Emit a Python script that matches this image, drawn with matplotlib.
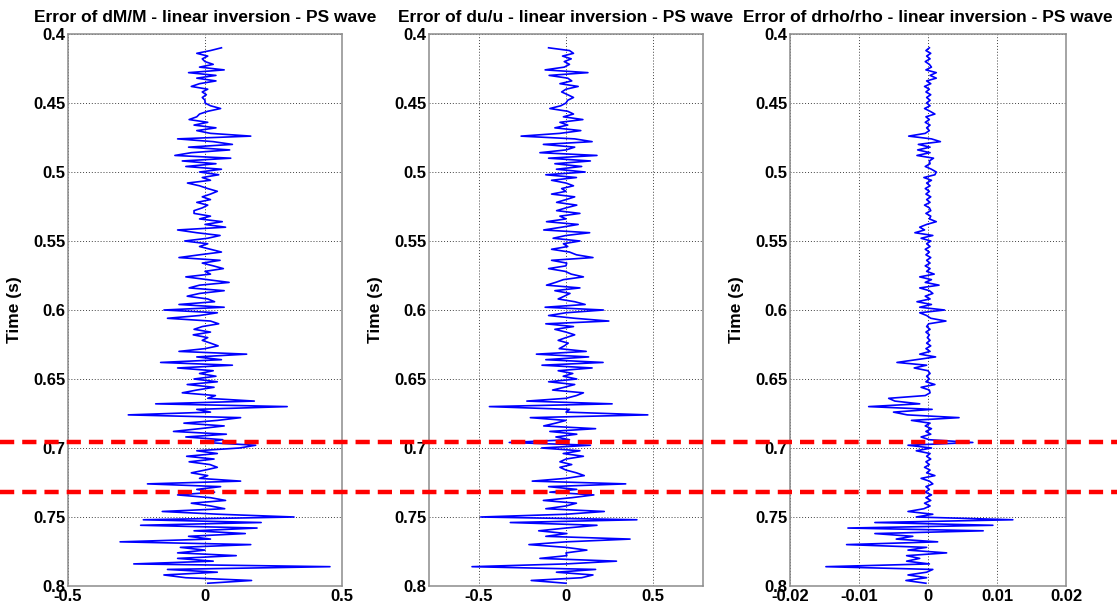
import numpy as np
import matplotlib
matplotlib.use("Agg")
import matplotlib.pyplot as plt
from matplotlib.lines import Line2D
from matplotlib.transforms import blended_transform_factory

plt.rcParams['font.family'] = ['Liberation Sans', 'DejaVu Sans']
plt.rcParams['font.weight'] = 'bold'

# Time samples (s), 2 ms step
time = np.round(np.arange(0.410, 0.7995, 0.002), 3)

# Relative error of the shear modulus, dM/M
err_dM_M = [
    0.06, 0.02, -0.03, 0.01, -0.01, 0.0, 0.03, -0.02, 0.07, -0.06,
    0.04, -0.03, 0.04, -0.02, -0.05, 0.01, -0.01, 0.005, -0.01, 0.0,
    0.0, 0.02, 0.057, 0.01, -0.02, -0.03, -0.058, 0.01, -0.04, 0.04,
    -0.03, 0.02, 0.167, -0.10, 0.03, 0.10, -0.06, 0.09, -0.05, -0.11,
    0.094, -0.083, 0.04, -0.07, 0.06, -0.02, 0.05, -0.01, 0.02, -0.064,
    -0.02, 0.01, 0.045, 0.02, -0.01, 0.02, -0.03, 0.01, -0.01, -0.04,
    -0.04, 0.02, -0.02, 0.063, 0.0, 0.075, -0.10, -0.03, 0.055, 0.01,
    -0.074, 0.01, -0.02, 0.02, 0.06, -0.02, -0.095, 0.055, -0.01, 0.03,
    0.067, 0.0, 0.02, -0.07, 0.01, 0.088, -0.02, -0.058, 0.07, -0.02,
    -0.065, 0.01, 0.035, -0.095, 0.07, -0.15, 0.045, -0.02, -0.137, 0.02,
    0.05, -0.01, -0.04, 0.02, -0.043, 0.01, -0.01, 0.02, 0.048, 0.0,
    -0.095, 0.152, -0.03, 0.06, -0.162, 0.10, -0.10, 0.03, -0.02, 0.04,
    -0.04, 0.045, -0.065, 0.033, -0.03, -0.083, 0.038, 0.01, 0.18, -0.18,
    0.30, -0.03, 0.02, -0.28, 0.13, 0.045, -0.077, 0.07, -0.02, -0.115,
    0.078, -0.07, 0.065, 0.0, 0.185, 0.126, -0.03, 0.045, -0.067, 0.033,
    -0.058, 0.018, 0.045, 0.0, -0.05, 0.01, -0.02, 0.13, -0.21, 0.057,
    -0.03, 0.035, -0.1, 0.02, 0.075, -0.05, 0.02, 0.072, -0.156, 0.05,
    0.325, -0.225, 0.205, -0.235, 0.19, -0.04, 0.147, -0.06, 0.02, -0.31,
    0.167, -0.09, 0.0, -0.10, 0.114, -0.1, 0.03, -0.26, 0.456, -0.137,
    0.045, -0.15, -0.07, 0.17, 0.01,
]

# Relative error of the shear-wave velocity, du/u
err_du_u = [
    -0.10, 0.02, 0.043, -0.02, 0.03, -0.01, 0.02, -0.01, -0.12, 0.126,
    -0.097, 0.01, 0.033, -0.035, 0.07, 0.0, -0.025, 0.01, 0.043, 0.01,
    0.0, -0.03, -0.093, 0.01, 0.043, -0.015, 0.097, -0.035, 0.01, -0.064,
    0.085, -0.035, -0.258, 0.05, 0.15, -0.13, 0.05, 0.0, -0.15, 0.178,
    -0.10, 0.14, -0.064, 0.09, -0.055, 0.11, -0.116, 0.06, -0.083, 0.0,
    0.043, -0.025, 0.0, -0.083, 0.05, 0.0, -0.054, 0.062, 0.0, -0.054,
    0.08, -0.035, 0.0, -0.112, 0.07, -0.025, -0.128, 0.136, 0.0, -0.074,
    0.08, -0.015, 0.01, -0.083, 0.02, 0.06, 0.155, -0.083, 0.004, 0.0,
    -0.10, -0.005, 0.03, 0.10, -0.015, -0.06, -0.112, 0.08, -0.064, 0.023,
    -0.01, -0.045, 0.05, 0.11, -0.12, 0.215, 0.0, -0.10, 0.05, 0.246,
    -0.116, 0.043, -0.064, 0.0, 0.05, 0.0, -0.045, 0.013, -0.01, -0.039,
    0.116, -0.17, 0.13, -0.116, 0.213, -0.138, 0.15, -0.045, 0.039, -0.016,
    0.062, -0.10, 0.05, -0.01, -0.077, 0.10, 0.06, 0.0, -0.225, 0.265,
    -0.44, 0.02, 0.0, 0.47, -0.205, 0.0, -0.06, -0.128, 0.17, -0.093,
    0.062, -0.058, 0.02, -0.326, 0.14, -0.14, 0.08, -0.016, 0.10, 0.0,
    -0.035, 0.033, -0.035, 0.0, 0.06, 0.105, 0.0, -0.194, 0.343, -0.10,
    0.062, -0.093, 0.16, 0.033, -0.13, 0.06, 0.0, -0.116, 0.22, 0.0,
    -0.49, 0.407, -0.32, 0.178, 0.0, -0.157, 0.005, -0.116, 0.368, 0.0,
    -0.213, 0.0, 0.12, 0.0, 0.005, -0.15, 0.29, 0.0, -0.54, 0.17,
    -0.055, 0.155, 0.09, -0.20, 0.0,
]

# Relative error of density, drho/rho
err_drho_rho = [
    0.0002, -0.0003, 0.0004, -0.0002, 0.0003, -0.0004, 0.0002, 0.0005, -0.0003, 0.0012,
    0.0003, 0.0012, -0.0002, 0.0004, -0.0005, 0.0002, -0.0003, 0.0004, -0.0002, 0.0003,
    -0.0002, 0.0003, -0.0005, 0.0003, 0.0010, -0.0003, 0.0002, -0.0004, 0.0003, -0.0002,
    0.0002, -0.0004, -0.0028, 0.0005, 0.0018, -0.0014, 0.0003, -0.0015, 0.0003, -0.0016,
    0.0008, 0.0002, 0.0003, -0.0004, 0.0005, 0.0012, 0.0010, -0.0006, 0.0005, -0.0002,
    0.0003, -0.0004, 0.0002, -0.0003, 0.0004, -0.0002, 0.0003, -0.0005, 0.0002, 0.0004,
    -0.0003, 0.0004, 0.0002, 0.0012, -0.0002, -0.0012, -0.0005, -0.0019, 0.0007, -0.0010,
    0.0004, -0.0002, 0.0003, -0.0004, 0.0002, -0.0003, 0.0004, -0.0002, 0.0003, -0.0004,
    0.0003, -0.0002, 0.0009, -0.0012, 0.0005, -0.0004, 0.0016, -0.0012, 0.0002, 0.0007,
    -0.0004, 0.0003, -0.0016, 0.0005, -0.0012, 0.0024, -0.0012, -0.0002, 0.0004, 0.0026,
    0.0001, -0.0002, 0.0003, -0.0003, 0.0002, -0.0001, 0.0003, -0.0002, 0.0004, -0.0003,
    0.0003, -0.0012, 0.0011, -0.0017, -0.0045, -0.0002, -0.0020, 0.0000, 0.0003, -0.0002,
    0.0002, -0.0003, 0.0010, -0.0010, 0.0002, 0.0003, -0.0004, -0.0057, -0.0048, -0.0012,
    -0.0086, 0.0006, -0.0050, -0.0030, 0.0045, -0.0024, 0.0003, -0.0004, 0.0005, -0.0003,
    0.0004, -0.0010, 0.0002, 0.0065, -0.0029, 0.0005, -0.0017, 0.0003, -0.0002, 0.0004,
    -0.0003, 0.0002, -0.0005, 0.0003, -0.0002, 0.0010, -0.0010, 0.0002, 0.0007, -0.0003,
    0.0002, -0.0004, 0.0005, -0.0003, 0.0004, -0.0005, 0.0003, -0.0006, -0.0029, 0.0007,
    -0.0017, 0.0123, -0.0077, 0.0094, -0.0116, 0.0080, -0.0077, -0.0022, -0.0046, 0.0014,
    -0.0118, -0.0002, -0.0029, 0.0027, -0.0031, -0.0012, -0.0031, 0.0002, -0.0148, 0.0007,
    -0.0002, -0.0029, -0.0002, -0.0032, -0.0003,
]

# Time window of interest (s)
window_times = [0.6955, 0.7318]

titles = [
    "Error of dM/M - linear inversion - PS wave",
    "Error of du/u - linear inversion - PS wave",
    "Error of drho/rho - linear inversion - PS wave",
]
series = [err_dM_M, err_du_u, err_drho_rho]

y_ticks = [0.4, 0.45, 0.5, 0.55, 0.6, 0.65, 0.7, 0.75, 0.8]
y_tick_labels = ["0.4", "0.45", "0.5", "0.55", "0.6", "0.65", "0.7", "0.75", "0.8"]
x_ticks = [[-0.5, 0, 0.5], [-0.5, 0, 0.5], [-0.02, -0.01, 0, 0.01, 0.02]]
x_tick_labels = [["-0.5", "0", "0.5"], ["-0.5", "0", "0.5"],
                 ["-0.02", "-0.01", "0", "0.01", "0.02"]]
x_limits = [(-0.5, 0.5), (-0.787, 0.787), (-0.02, 0.02)]

W, H = 1117, 610
fig = plt.figure(figsize=(W / 100, H / 100), dpi=100)

# axes boxes in pixels: left, right, top, bottom
boxes = [(68, 342, 34, 586), (429, 703, 34, 586), (790, 1066, 34, 586)]

axes = []
for i, (l, r, t, b) in enumerate(boxes):
    ax = fig.add_axes([l / W, (H - b) / H, (r - l) / W, (b - t) / H])
    ax.plot(series[i], time, color="#0000ff", lw=1.2)
    ax.set_xlim(*x_limits[i])
    ax.set_ylim(0.8, 0.4)
    ax.set_xticks(x_ticks[i])
    ax.set_xticklabels(x_tick_labels[i])
    ax.set_yticks(y_ticks)
    ax.set_yticklabels(y_tick_labels)
    ax.grid(True, linestyle=(0, (1, 2)), color="#404040", linewidth=0.7)
    ax.tick_params(axis="both", direction="in", length=0, labelsize=12,
                   pad=2, colors="black")
    for lab in ax.get_xticklabels() + ax.get_yticklabels():
        lab.set_fontweight("bold")
    for sp in ax.spines.values():
        sp.set_color("#8c8c8c")
        sp.set_linewidth(1.1)
    ax.set_title(titles[i], fontsize=12.5, fontweight="bold", pad=9)
    ax.set_ylabel("Time (s)", fontsize=12.5, fontweight="bold", labelpad=8)
    axes.append(ax)

# dashed markers spanning the whole figure width
trans = blended_transform_factory(fig.transFigure, axes[0].transData)
for tw in window_times:
    fig.add_artist(Line2D([0, 1], [tw, tw], transform=trans, color="red",
                          lw=3.2, linestyle=(0, (3.2, 1.8)), zorder=10))

fig.savefig("out.png", dpi=100)
